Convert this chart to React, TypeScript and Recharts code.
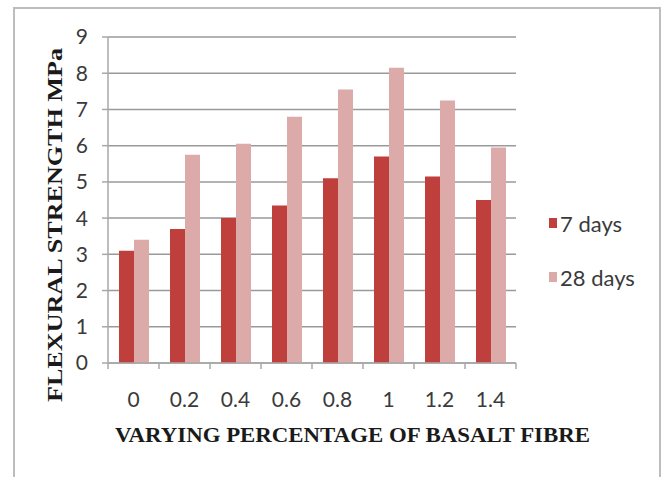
import React from 'react';
import { BarChart, Bar, XAxis, YAxis, CartesianGrid, Legend, Label } from 'recharts';

const fibrePercent = ['0', '0.2', '0.4', '0.6', '0.8', '1', '1.2', '1.4'];
const days7 = [3.1, 3.7, 4.0, 4.35, 5.1, 5.7, 5.15, 4.5];
const days28 = [3.4, 5.75, 6.05, 6.8, 7.55, 8.15, 7.25, 5.95];
const yTicks = [0, 1, 2, 3, 4, 5, 6, 7, 8, 9];
const seriesOrder = ['d7', 'd28'];

const data = fibrePercent.map((p, i) => ({ name: p, d7: days7[i], d28: days28[i] }));

const tickFont = 'Lato, "Open Sans", sans-serif';
const titleFont = '"Liberation Serif", "DejaVu Serif", serif';

// category label plus the small tick marks that sit between the categories
const XTick = (props: any) => {
  const { x, y, payload, index, visibleTicksCount } = props;
  const half = payload.offset || 0;
  const top = y - 28;
  return (
    <g>
      <line x1={x - half} y1={top} x2={x - half} y2={top + 6} stroke='#a8a8a8' strokeWidth={1.5} />
      {index === visibleTicksCount - 1 && (
        <line x1={x + half} y1={top} x2={x + half} y2={top + 6} stroke='#a8a8a8' strokeWidth={1.5} />
      )}
      <text x={x} y={y + 16} textAnchor='middle' fontSize={21} fontFamily={tickFont} fill='#3a3a3a'>
        {payload.value}
      </text>
    </g>
  );
};

const renderLegend = (props: any) => {
  const items = [...(props.payload || [])].sort(
    (a: any, b: any) => seriesOrder.indexOf(a.dataKey) - seriesOrder.indexOf(b.dataKey)
  );
  return (
    <div style={{ fontFamily: tickFont, fontSize: 22, color: '#3a3a3a' }}>
      {items.map((entry: any, i: number) => (
        <div key={`leg-${i}`} style={{ display: 'flex', alignItems: 'center', height: 28, marginBottom: i === 0 ? 26 : 0 }}>
          <span style={{ display: 'inline-block', width: 8, height: 10, background: entry.color, marginRight: 3 }} />
          <span>{entry.value}</span>
        </div>
      ))}
    </div>
  );
};

const App = () => {
  return (
    <div style={{ position: 'absolute', left: 0, top: 0, width: 663, height: 477, overflow: 'hidden', background: '#fff' }}>
      <div
        style={{
          position: 'absolute',
          left: 13,
          top: 7,
          width: 644,
          height: 490,
          border: '2px solid #bdbdbd',
        }}
      />
      <div style={{ position: 'absolute', left: 0, top: 0 }}>
        <BarChart
          width={663}
          height={477}
          data={data}
          margin={{ top: 37, right: 37, bottom: 54, left: 48 }}
          barGap={0}
          barSize={15}
        >
          <CartesianGrid vertical={false} stroke='#9a9a9a' strokeWidth={1.5} />
          <XAxis
            dataKey='name'
            height={60}
            stroke='#a8a8a8'
            strokeWidth={1.5}
            tickLine={false}
            tickSize={6}
            tickMargin={22}
            tick={<XTick />}
            interval={0}
          >
            <Label
              content={(p: any) => {
                const vb = p.viewBox;
                return (
                  <text
                    x={vb.x + 7}
                    y={vb.y + 79}
                    textLength={475}
                    lengthAdjust='spacingAndGlyphs'
                    fontSize={22}
                    fontWeight='bold'
                    fontFamily={titleFont}
                    fill='#1a1a1a'
                  >
                    VARYING PERCENTAGE OF BASALT FIBRE
                  </text>
                );
              }}
            />
          </XAxis>
          <YAxis
            width={60}
            domain={[0, 9]}
            ticks={yTicks}
            interval={0}
            stroke='#a8a8a8'
            strokeWidth={1.5}
            tickSize={6}
            tickMargin={14}
            tick={{ fontSize: 21, fontFamily: tickFont, fill: '#3a3a3a' }}
          >
            <Label
              content={(p: any) => {
                const vb = p.viewBox;
                const tx = vb.x + 14;
                const ty = vb.y + vb.height + 39;
                return (
                  <text
                    x={tx}
                    y={ty}
                    transform={`rotate(-90 ${tx} ${ty})`}
                    textLength={354}
                    lengthAdjust='spacingAndGlyphs'
                    fontSize={22}
                    fontWeight='bold'
                    fontFamily={titleFont}
                    fill='#1a1a1a'
                  >
                    FLEXURAL STRENGTH  MPa
                  </text>
                );
              }}
            />
          </YAxis>
          <Legend
            layout='vertical'
            align='right'
            verticalAlign='middle'
            content={renderLegend}
            wrapperStyle={{ position: 'absolute', left: 549, top: 209, width: 110 }}
          />
          <Bar dataKey='d7' name='7 days' fill='#bf3f3d' isAnimationActive={false} />
          <Bar dataKey='d28' name='28 days' fill='#dcaaa9' isAnimationActive={false} />
        </BarChart>
      </div>
    </div>
  );
};

export default App;
